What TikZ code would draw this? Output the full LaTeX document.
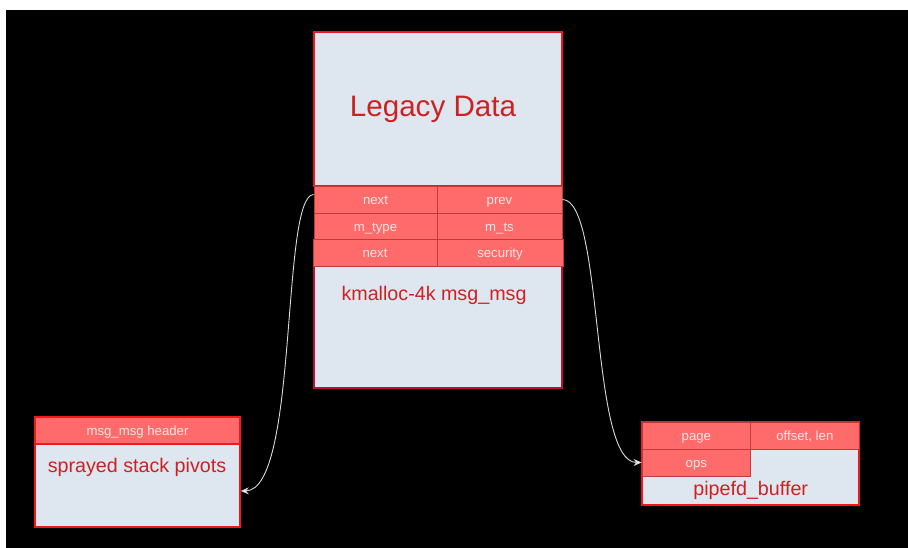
\documentclass[tikz,border=0pt]{standalone}
\usepackage{fontspec}
\setmainfont{Liberation Sans}
\usetikzlibrary{arrows.meta}
\definecolor{cellred}{HTML}{FF6B6B}
\definecolor{celledge}{HTML}{C23B3B}
\definecolor{bodyfill}{HTML}{DEE6EF}
\definecolor{boxedge}{HTML}{F01818}
\definecolor{lowedge}{HTML}{B8123C}
\definecolor{txtred}{HTML}{CC2222}
\definecolor{celltxt}{HTML}{FFE4E4}
\definecolor{wire}{HTML}{D8D8D8}
\begin{document}
\begin{tikzpicture}[x=1pt,y=-1pt,
  bodybox/.style={draw=boxedge,line width=1.5pt,fill=bodyfill,inner sep=0pt},
  lowbox/.style={draw=lowedge,line width=1.5pt,fill=bodyfill,inner sep=0pt},
  cell/.style={draw=celledge,line width=0.8pt,fill=cellred,inner sep=0pt,
    text=celltxt,font=\fontsize{13.2}{15}\selectfont,text height=13pt,text depth=2.7pt},
  bigtxt/.style={text=txtred,inner sep=0pt,font=\fontsize{29.6}{34}\selectfont},
  midtxt/.style={text=txtred,inner sep=0pt,font=\fontsize{19.7}{23}\selectfont},
  wirearrow/.style={draw=wire,line width=0.9pt,-{Stealth[length=8pt,width=7pt,fill=white]}}]
\useasboundingbox (0,0) rectangle (908,548);
\fill[white] (0,0) rectangle (908,548);
\fill[black] (6,10) rectangle (908,548);

% main msg_msg object
\node[bodybox,minimum width=248pt,minimum height=154pt] (legacy) at (438,109) {};
\node[bigtxt] (legtxt) at (433,109.5) {Legacy Data};
\node[lowbox,minimum width=248pt,minimum height=122pt] (lowbody) at (438,327) {};
\node[midtxt] (kmtxt) at (434,295) {kmalloc-4k msg\_msg};
\node[cell,minimum width=123pt,minimum height=27pt] (nextA) at (375.5,199.5) {next};
\node[cell,minimum width=125pt,minimum height=27pt] (prev) at (499.5,199.5) {prev};
\node[cell,minimum width=123pt,minimum height=26.5pt] (mtype) at (375.5,226.25) {m\_type};
\node[cell,minimum width=125pt,minimum height=26.5pt] (mts) at (499.5,226.25) {m\_ts};
\node[cell,minimum width=124pt,minimum height=26.5pt] (nextB) at (375,252.75) {next};
\node[cell,minimum width=126pt,minimum height=26.5pt] (security) at (500,252.75) {security};

% left sprayed object
\node[bodybox,minimum width=205pt,minimum height=83pt] (lbody) at (137.5,485.5) {};
\node[cell,draw=boxedge,line width=1.2pt,minimum width=205pt,minimum height=27pt] (lhead) at (137.5,430.5) {msg\_msg header};
\node[midtxt] (spraytxt) at (137,467.5) {sprayed stack pivots};

% right pipe buffer
\node[bodybox,minimum width=217pt,minimum height=83pt] (rbody) at (750.5,463.5) {};
\node[cell,minimum width=108.7pt,minimum height=27pt] (page) at (696.35,435.5) {page};
\node[cell,minimum width=108.3pt,minimum height=27pt] (offlen) at (804.85,435.5) {offset, len};
\node[cell,minimum width=108.7pt,minimum height=27pt] (ops) at (696.35,462.5) {ops};
\node[midtxt] (pipetxt) at (750.7,490) {pipefd\_buffer};
\draw[boxedge,line width=1.2pt] (rbody.north west) rectangle (rbody.south east);

% connectors
\draw[wirearrow] ([yshift=5pt]nextA.west) .. controls +(-33,1) and +(58,-1) .. ([yshift=-5.5pt]lbody.east);
\draw[wirearrow] (prev.east) .. controls +(42,0) and +(-52,0) .. (ops.west);
\end{tikzpicture}
\end{document}
